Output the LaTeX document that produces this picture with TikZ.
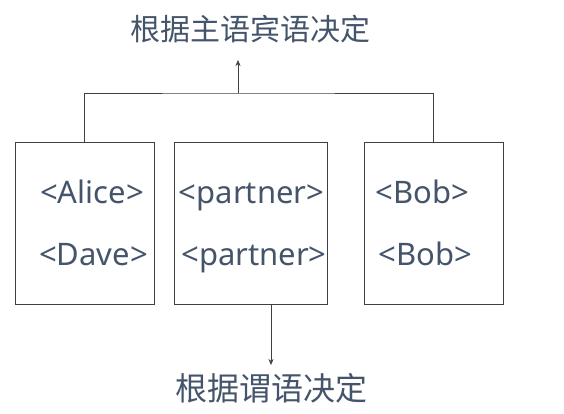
\documentclass[tikz,border=0pt]{standalone}
\usepackage{fontspec}
\setmainfont{Noto Sans}
\newfontfamily\cjk{Noto Sans CJK SC}
\usetikzlibrary{arrows.meta,positioning}
\definecolor{slate}{HTML}{44546A}

\begin{document}
\begin{tikzpicture}[x=1pt,y=-1pt,>={Stealth[length=6pt,width=5pt]},thin]
 \tikzstyle{word box}=[rectangle,draw=black!75,minimum height=162pt,inner sep=0]
 \tikzstyle{word node}=[anchor=base,text=slate,font=\fontsize{31}{33}\selectfont,inner sep=0]
 \tikzstyle{title node}=[text=slate,font=\cjk\fontsize{30}{34}\selectfont,inner sep=2]

 \useasboundingbox (0,0) rectangle (564,413);

       \node[word box,minimum width=139pt] (subj) at (84.5,223) {};
       \node[word box,minimum width=153pt] (pred) at (250.5,223) {};
       \node[word box,minimum width=139pt] (obj) at (433.5,223) {};

       \node[word node] (alice) at (92,203) {<Alice>};
       \node[word node] (dave) at (93.5,265) {<Dave>};
       \node[word node] (p1) at (251.5,203) {<partner>};
       \node[word node] (p2) at (254,265) {<partner>};
       \node[word node] (bob1) at (422.5,203) {<Bob>};
       \node[word node] (bob2) at (425.5,265) {<Bob>};

       \node[title node] (so) at (250,29) {根据主语宾语决定};
       \node[title node,font=\cjk\fontsize{32}{36}\selectfont] (pd) at (271,388) {根据谓语决定};

       \coordinate (join) at (238,93);
       \coordinate (up tip) at (238,60);
       \coordinate (down tip) at (271,365);

     \draw[black!75] (subj.north) |- (join) -| (obj.north);
     \draw[black!75,->]  (join) -- (up tip);
     \draw[black!75,->]  (pred.south -| down tip) -- (down tip);
 \end{tikzpicture}
\end{document}
